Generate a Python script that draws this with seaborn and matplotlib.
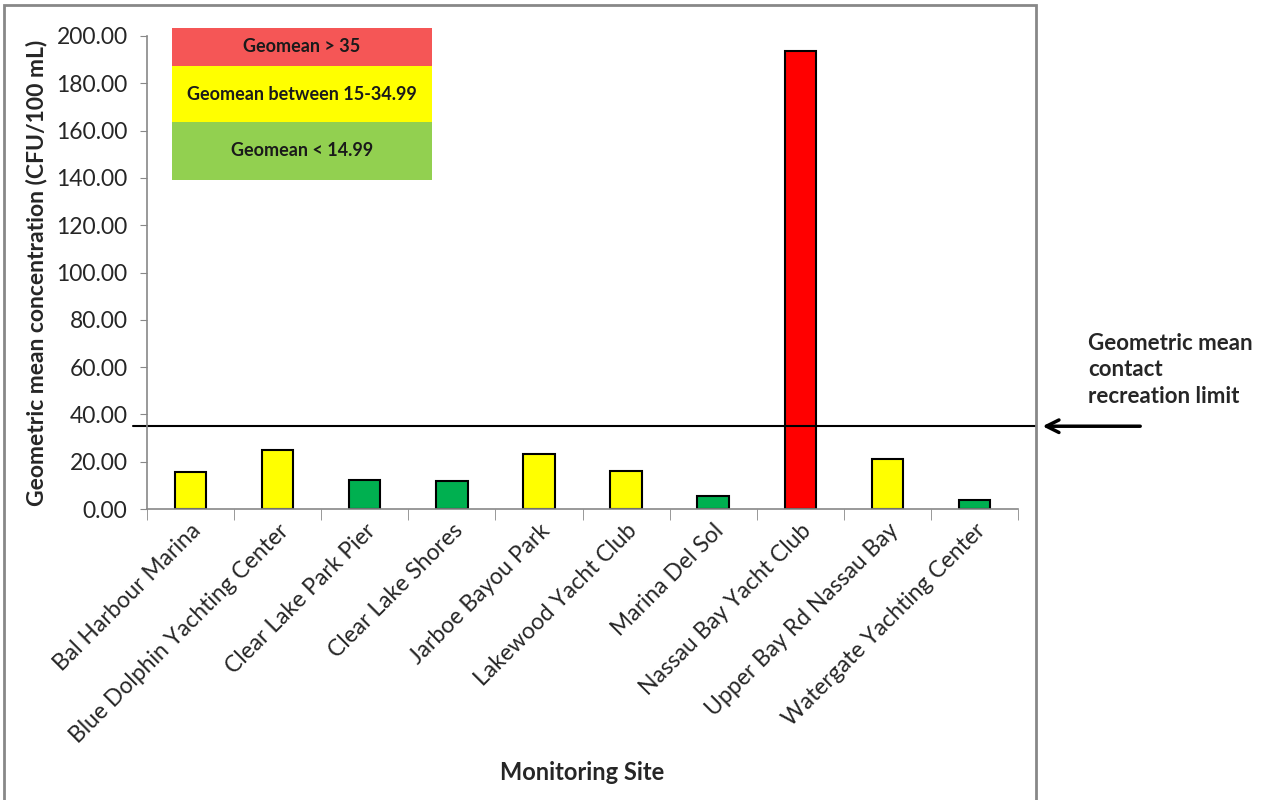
import numpy as np
import pandas as pd
import matplotlib
matplotlib.use("Agg")
import matplotlib.pyplot as plt
from matplotlib.patches import Rectangle
from matplotlib.ticker import FixedLocator, FormatStrFormatter
import seaborn as sns

# Sites and geometric mean values (CFU/100 mL)
sites = ["Bal Harbour Marina", "Blue Dolphin Yachting Center", "Clear Lake Park Pier",
         "Clear Lake Shores", "Jarboe Bayou Park", "Lakewood Yacht Club",
         "Marina Del Sol", "Nassau Bay Yacht Club", "Upper Bay Rd Nassau Bay",
         "Watergate Yachting Center"]
geomean = [15.8, 24.8, 12.1, 11.8, 23.4, 15.9, 5.6, 193.7, 21.1, 3.8]
limit = 35

legend_labels = ["Geomean > 35", "Geomean between 15-34.99", "Geomean < 14.99"]

# Bar colour by threshold
def bar_color(v):
    if v > 35:
        return "#FF0000"
    if v >= 15:
        return "#FFFF00"
    return "#00B050"

df = pd.DataFrame({"site": sites, "value": geomean})
palette = {s: bar_color(v) for s, v in zip(sites, geomean)}

sns.set_style("white")
plt.rcParams["font.family"] = ["Lato", "DejaVu Sans"]

fig = plt.figure(figsize=(12.66, 8), dpi=100)
ax = fig.add_axes([147 / 1266, 1 - 509 / 800, 871 / 1266, 473 / 800])

sns.barplot(data=df, x="site", y="value", hue="site", palette=palette, legend=False,
            width=0.36, edgecolor="black", linewidth=1.5, saturation=1, ax=ax)

ax.set_ylim(0, 200)
ax.set_xlim(-0.5, len(sites) - 0.5)
ax.yaxis.set_major_formatter(FormatStrFormatter("%.2f"))
ax.set_yticks(np.arange(0, 201, 20))
ax.tick_params(axis="y", labelsize=16.5, length=5, color="#888888", direction="out",
               left=True, pad=9)
ax.tick_params(axis="x", which="major", length=0, labelsize=16.5, pad=8)
ax.xaxis.set_minor_locator(FixedLocator(np.arange(-0.5, len(sites), 1)))
ax.tick_params(axis="x", which="minor", length=8, color="#888888", bottom=True, direction="out")
plt.setp(ax.get_xticklabels(), rotation=45, ha="right", rotation_mode="anchor")

for side in ["top", "right"]:
    ax.spines[side].set_visible(False)
for side in ["left", "bottom"]:
    ax.spines[side].set_color("#888888")
    ax.spines[side].set_linewidth(1.2)

ax.set_ylabel("Geometric mean concentration (CFU/100 mL)", fontsize=16.5, fontweight="bold",
              labelpad=6)
ax.set_xlabel("Monitoring Site", fontsize=17, fontweight="bold", labelpad=10)

# contact recreation limit line, extending past the plot area
ax.axhline(limit, xmin=-0.016, xmax=1.0207, color="black", lw=1.5, clip_on=False)
ax.annotate("", xy=(1.025, limit), xycoords=ax.get_yaxis_transform(),
            xytext=(1.1435, limit), textcoords=ax.get_yaxis_transform(),
            arrowprops=dict(arrowstyle="->,head_length=0.9,head_width=0.45", lw=2.5, color="black"))
fig.text(1088 / 1266, 1 - 370 / 800, "Geometric mean\ncontact\nrecreation limit",
         fontsize=16, fontweight="bold", va="center", ha="left", linespacing=1.3)

# colour key box
key_colors = ["#F55656", "#FFFF00", "#92D050"]
key_edges = [28, 66, 122, 180]
for i, (lab, c) in enumerate(zip(legend_labels, key_colors)):
    y0 = 1 - key_edges[i + 1] / 800
    h = (key_edges[i + 1] - key_edges[i]) / 800
    fig.patches.append(Rectangle((172 / 1266, y0), 260 / 1266, h, transform=fig.transFigure,
                                 facecolor=c, edgecolor="none"))
    fig.text(302 / 1266, y0 + h / 2, lab, ha="center", va="center", fontsize=13,
             fontweight="bold", color="#1a1a1a")

# outer chart frame
fig.patches.append(Rectangle((4 / 1266, -0.01), 1032 / 1266, 1.01 - 5 / 800,
                             transform=fig.transFigure, facecolor="none",
                             edgecolor="#888888", lw=2))

fig.savefig("out.png", dpi=100)
